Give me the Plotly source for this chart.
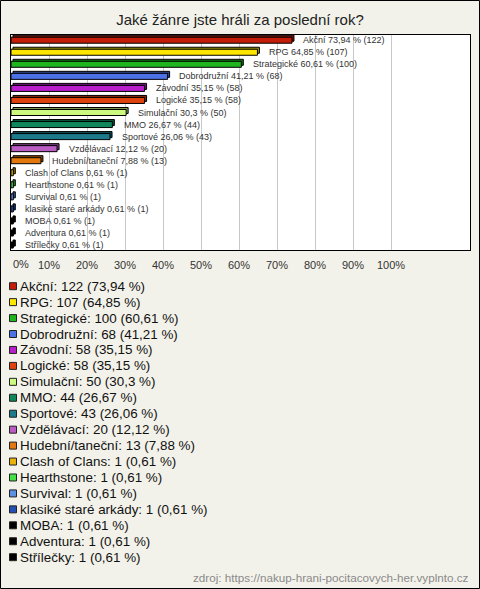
import plotly.graph_objects as go

# ---- data ----
categories = ["Akční", "RPG", "Strategické", "Dobrodružní", "Závodní", "Logické",
              "Simulační", "MMO", "Sportové", "Vzdělávací", "Hudební/taneční",
              "Clash of Clans", "Hearthstone", "Survival", "klasiké staré arkády",
              "MOBA", "Adventura", "Střílečky"]
counts = [122, 107, 100, 68, 58, 58, 50, 44, 43, 20, 13, 1, 1, 1, 1, 1, 1, 1]
percents = [73.94, 64.85, 60.61, 41.21, 35.15, 35.15, 30.3, 26.67, 26.06, 12.12,
            7.88, 0.61, 0.61, 0.61, 0.61, 0.61, 0.61, 0.61]
colors = ["#C41E0A", "#FFE600", "#1FB51F", "#4C72E6", "#B91ECC", "#E0420E",
          "#CCFA80", "#10875A", "#1C7A8A", "#BB5CC4", "#E3780E", "#E8B20A",
          "#44E044", "#5C90E2", "#2350B2", "#000000", "#000000", "#000000"]
tick_vals = [10, 20, 30, 40, 50, 60, 70, 80, 90, 100]
tick_text = ["10%", "20%", "30%", "40%", "50%", "60%", "70%", "80%", "90%", "100%"]
first_tick_val = 0
first_tick_text = "0%"
title_text = "Jaké žánre jste hráli za poslední rok?"
source_text = "zdroj: https://nakup-hrani-pocitacovych-her.vyplnto.cz"

W, H = 480, 589
BG = "#F3F2EA"
FONT = "Arial, Liberation Sans"


def fx(p):
    return p / W


def fy(p):
    return 1 - p / H


def fmt(v):
    s = f"{v:.2f}".rstrip("0").rstrip(".")
    return s.replace(".", ",")


def darker(hexc, f=0.62):
    h = hexc.lstrip("#")
    r, g, b = int(h[0:2], 16), int(h[2:4], 16), int(h[4:6], 16)
    return "#%02X%02X%02X" % (int(r * f), int(g * f), int(b * f))


# geometry (pixels)
PL, PR, PT, PB = 11, 470, 35, 250
PX_PER_PCT = 3.8
ROW0, ROWSTEP = 40.2, 12.05
SH = 2  # 3D offset in px

x_front = [0, (PR - PL) / PX_PER_PCT]
x_back = [x_front[0] - SH / PX_PER_PCT, x_front[1] - SH / PX_PER_PCT]
y_front = [(PB - ROW0) / ROWSTEP, (PT - ROW0) / ROWSTEP]
y_back = [(PB - ROW0 + SH) / ROWSTEP, (PT - ROW0 + SH) / ROWSTEP]

fig = go.Figure()

# back face (3D depth)
fig.add_trace(go.Bar(
    y=categories, x=percents, orientation="h",
    marker=dict(color=[darker(c) for c in colors], line=dict(color="#000000", width=1)),
    width=0.5, xaxis="x", yaxis="y", hoverinfo="skip", showlegend=False,
))
# front face
fig.add_trace(go.Bar(
    y=categories, x=percents, orientation="h",
    marker=dict(color=colors, line=dict(color="#000000", width=1)),
    width=0.5, xaxis="x2", yaxis="y2", showlegend=False,
))

annotations = []
for c, p, n in zip(categories, percents, counts):
    annotations.append(dict(
        x=p, y=c, xref="x2", yref="y2", text=f"{c} {fmt(p)} % ({n})",
        showarrow=False, xanchor="left", yanchor="middle", xshift=9.5,
        font=dict(family=FONT, size=9, color="#333333"),
    ))

# first tick label (left-aligned at the axis start, as in the reference)
annotations.append(dict(
    x=first_tick_val, y=fy(263.5), xref="x2", yref="paper", text=first_tick_text,
    showarrow=False, xanchor="left", yanchor="middle", xshift=0,
    font=dict(family=FONT, size=11, color="#333333"),
))

shapes = []
LEG0, LEGSTEP = 286.2, 15.94
for i, (c, p, n, col) in enumerate(zip(categories, percents, counts, colors)):
    yc = LEG0 + i * LEGSTEP
    shapes.append(dict(
        type="rect", xref="paper", yref="paper",
        x0=fx(9.5), x1=fx(16.5), y0=fy(yc + 3.5), y1=fy(yc - 3.5),
        fillcolor=col, line=dict(color="#222222", width=1),
    ))
    annotations.append(dict(
        x=fx(18), y=fy(yc), xref="paper", yref="paper",
        text=f"{c}: {n} ({fmt(p)} %)", showarrow=False,
        xanchor="left", yanchor="middle",
        font=dict(family=FONT, size=13.4, color="#111111"),
    ))

annotations.append(dict(
    x=fx(471), y=fy(577), xref="paper", yref="paper", text=source_text,
    showarrow=False, xanchor="right", yanchor="middle",
    font=dict(family=FONT, size=11.7, color="#8A8A8A"),
))

shapes.append(dict(
    type="rect", xref="paper", yref="paper",
    x0=fx(0.5), x1=fx(W - 0.5), y0=fy(H - 0.5), y1=fy(0.5),
    line=dict(color="#000000", width=1), fillcolor="rgba(0,0,0,0)", layer="above",
))

fig.update_layout(
    width=W, height=H, autosize=False,
    margin=dict(l=0, r=0, t=0, b=0),
    paper_bgcolor=BG, plot_bgcolor="#FFFFFF",
    barmode="overlay",
    title=dict(text=title_text, x=0.5, xanchor="center", y=fy(20), yanchor="middle",
               font=dict(family=FONT, size=15, color="#222222")),
    xaxis=dict(domain=[fx(PL), fx(PR)], range=x_back, visible=False, fixedrange=True),
    yaxis=dict(domain=[fy(PB), fy(PT)], range=y_back, visible=False,
               type="category", categoryorder="array", categoryarray=categories),
    xaxis2=dict(domain=[fx(PL), fx(PR)], range=x_front, overlaying="x", anchor="y2",
                side="bottom", tickvals=tick_vals, ticktext=tick_text,
                showgrid=True, gridcolor="#C8C8C8", gridwidth=1, zeroline=False,
                showline=True, mirror=True, linecolor="#000000", linewidth=1,
                ticks="", ticklabelstandoff=5,
                tickfont=dict(family=FONT, size=11, color="#333333")),
    yaxis2=dict(domain=[fy(PB), fy(PT)], range=y_front, overlaying="y", anchor="x2",
                type="category", categoryorder="array", categoryarray=categories,
                showticklabels=False, showgrid=False, zeroline=False, ticks="",
                showline=True, mirror=True, linecolor="#000000", linewidth=1),
    annotations=annotations,
    shapes=shapes,
    showlegend=False,
)

fig.write_html(
    "out.html",
    config={"displayModeBar": False},
    post_script="document.body.style.margin='0';document.body.style.overflow='hidden';",
)
